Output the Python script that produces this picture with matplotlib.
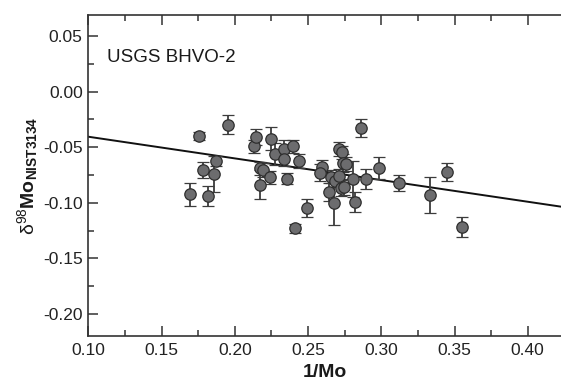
import matplotlib
matplotlib.use("Agg")
import matplotlib.pyplot as plt
from matplotlib.ticker import MultipleLocator
import numpy as np

plt.rcParams['font.family'] = ['Liberation Sans', 'DejaVu Sans']
plt.rcParams['mathtext.fontset'] = 'custom'
plt.rcParams['mathtext.rm'] = 'Liberation Sans'
plt.rcParams['mathtext.it'] = 'Liberation Sans:italic'
plt.rcParams['mathtext.bf'] = 'Liberation Sans:bold'

# Data: 1/Mo, delta98Mo (NIST3134), 2SD uncertainty
inv_mo = [0.1692, 0.1756, 0.1786, 0.1820, 0.1857, 0.1875, 0.1954,
          0.2130, 0.2148, 0.2171, 0.2193, 0.2171, 0.2246, 0.2243,
          0.2273, 0.2336, 0.2336, 0.2359, 0.2398, 0.2438, 0.2414,
          0.2494, 0.2593, 0.2584, 0.2641, 0.2657, 0.2675, 0.2684,
          0.2714, 0.2732, 0.2714, 0.2736, 0.2759, 0.2728, 0.2746,
          0.2806, 0.2819, 0.2861, 0.2898, 0.2982, 0.3121, 0.3335,
          0.3451, 0.3550]
d98mo = [-0.0922, -0.0403, -0.0703, -0.0934, -0.0742, -0.0622, -0.0297,
         -0.0493, -0.0408, -0.0688, -0.0703, -0.0838, -0.0423, -0.0769,
         -0.0562, -0.0516, -0.0607, -0.0784, -0.0493, -0.0622, -0.1228,
         -0.1048, -0.0673, -0.0727, -0.0904, -0.0763, -0.1003, -0.0799,
         -0.0516, -0.0546, -0.0754, -0.0643, -0.0649, -0.0868, -0.0859,
         -0.0787, -0.0994, -0.0324, -0.0784, -0.0688, -0.0823, -0.0928,
         -0.0721, -0.1213]
err = [0.0105, 0.0036, 0.0075, 0.0090, 0.0160, 0.0045, 0.0084,
       0.0060, 0.0070, 0.0060, 0.0060, 0.0130, 0.0105, 0.0060,
       0.0100, 0.0080, 0.0060, 0.0050, 0.0060, 0.0060, 0.0040,
       0.0080, 0.0060, 0.0080, 0.0080, 0.0060, 0.0200, 0.0060,
       0.0060, 0.0060, 0.0060, 0.0080, 0.0060, 0.0070, 0.0070,
       0.0160, 0.0090, 0.0080, 0.0090, 0.0100, 0.0070, 0.0165,
       0.0084, 0.0090]

fit_slope = -0.195
fit_intercept = -0.021

x_ticks = [0.10, 0.15, 0.20, 0.25, 0.30, 0.35, 0.40]
y_ticks = [0.05, 0.00, -0.05, -0.10, -0.15, -0.20]

fig = plt.figure(figsize=(5.61, 3.81), dpi=100)
ax = fig.add_axes([0.1574, 0.1181, 0.8426, 0.8425])

ax.axline((0.0, fit_intercept), slope=fit_slope, color='#111111', lw=1.4, zorder=2)
ax.errorbar(inv_mo, d98mo, yerr=err, fmt='o', ms=8.2, mfc='#6c6c6e', mec='#2e2e2e',
            mew=0.9, ecolor='#3c3c3c', elinewidth=1.3, capsize=4.6, capthick=1.3, zorder=3)

ax.set_xlim(0.10, 0.4227)
ax.set_ylim(-0.2198, 0.069)
ax.set_xticks(x_ticks)
ax.set_yticks(y_ticks)
ax.set_xticklabels([f"{v:.2f}" for v in x_ticks])
ax.set_yticklabels([f"{v:.2f}" for v in y_ticks])
ax.xaxis.set_minor_locator(MultipleLocator(0.025))
ax.yaxis.set_minor_locator(MultipleLocator(0.025))
ax.tick_params(which='both', direction='in', top=True, right=False, colors='#333333',
               labelcolor='#222222', labelsize=12.5, width=1.1)
ax.tick_params(which='major', length=7)
ax.tick_params(which='minor', length=4)
ax.tick_params(axis='x', pad=5)
ax.tick_params(axis='y', pad=4)
ax.spines['right'].set_visible(False)
for s in ['left', 'top', 'bottom']:
    ax.spines[s].set_color('#333333')
    ax.spines[s].set_linewidth(1.2)

ax.text(0.1128, 0.0305, 'USGS BHVO-2', fontsize=13.5, color='#1a1a1a', va='center', ha='left')

ax.set_ylabel('δ' + r'$^{98}\mathbf{Mo}_{\mathbf{NIST3134}}$', fontsize=14, color='#1a1a1a', labelpad=2)
ax.set_xlabel('1/Mo', fontsize=14, fontweight='bold', color='#1a1a1a', labelpad=4)

fig.savefig('out.png', dpi=100)
